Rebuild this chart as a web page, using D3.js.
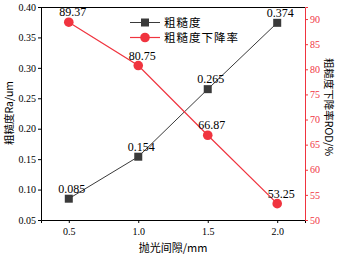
<!DOCTYPE html>
<html><head><meta charset="utf-8">
<script src="https://cdn.jsdelivr.net/npm/d3@7"></script>
<style>body{margin:0;background:#fff}svg{display:block}</style>
</head><body>
<script>
const gaps = [0.5, 1.0, 1.5, 2.0];
const roughness = [0.085, 0.154, 0.265, 0.374];
const reduction = [89.37, 80.75, 66.87, 53.25];
const xTicks = [0.5, 1.0, 1.5, 2.0];
const yLeftTicks = [0.05, 0.10, 0.15, 0.20, 0.25, 0.30, 0.35, 0.40];
const yRightTicks = [50, 55, 60, 65, 70, 75, 80, 85, 90];
const seriesNames = ["粗糙度", "粗糙度下降率"];

const W = 338, H = 255;
const m = {l: 41, r: 305, t: 7, b: 220};
const serif = "'Liberation Serif','Times New Roman',Times,serif";
const cjk = "'Noto Sans CJK SC','Noto Sans',sans-serif";
const red = "#f0343f", dark = "#3a3a3a";

const svg = d3.select("body").append("svg").attr("width", W).attr("height", H);
const x = d3.scaleLinear().domain([0.3, 2.2]).range([m.l, m.r]);
const yL = d3.scaleLinear().domain([0.05, 0.40]).range([m.b, m.t]);
const yR = d3.scaleLinear().domain([50, 92.4]).range([m.b, m.t]);

// top border
svg.append("line").attr("x1", m.l).attr("x2", m.r).attr("y1", m.t + 0.5).attr("y2", m.t + 0.5)
  .attr("stroke", "#000").attr("stroke-width", 1);

const ax = svg.append("g").attr("transform", `translate(0,${m.b})`)
  .call(d3.axisBottom(x).tickValues(xTicks).tickFormat(d3.format(".1f")).tickSizeOuter(0).tickSize(3).tickPadding(5));
const ayl = svg.append("g").attr("transform", `translate(${m.l},0)`)
  .call(d3.axisLeft(yL).tickValues(yLeftTicks).tickFormat(d3.format(".2f")).tickSizeOuter(0).tickSize(3).tickPadding(2));
const ayr = svg.append("g").attr("transform", `translate(${m.r},0)`)
  .call(d3.axisRight(yR).tickValues(yRightTicks).tickFormat(d3.format("d")).tickSizeOuter(0).tickSize(3).tickPadding(2));
[ax, ayl].forEach(g => {
  g.selectAll("path,line").attr("stroke", "#000");
  g.selectAll("text").attr("fill", "#000").style("font-family", serif).style("font-size", "10px");
});
ayr.selectAll("path,line").attr("stroke", red);
ayr.selectAll("text").attr("fill", red).style("font-family", serif).style("font-size", "10px");

// lines
svg.append("path").datum(gaps.map((g, i) => [g, roughness[i]]))
  .attr("fill", "none").attr("stroke", dark).attr("stroke-width", 1)
  .attr("d", d3.line().x(d => x(d[0])).y(d => yL(d[1])));
svg.append("path").datum(gaps.map((g, i) => [g, reduction[i]]))
  .attr("fill", "none").attr("stroke", red).attr("stroke-width", 1.2)
  .attr("d", d3.line().x(d => x(d[0])).y(d => yR(d[1])));

svg.selectAll("rect.pt").data(gaps).enter().append("rect")
  .attr("x", (d) => x(d) - 4).attr("y", (d, i) => yL(roughness[i]) - 4)
  .attr("width", 8).attr("height", 8).attr("fill", dark);
svg.selectAll("circle.pt").data(gaps).enter().append("circle")
  .attr("cx", d => x(d)).attr("cy", (d, i) => yR(reduction[i])).attr("r", 4.8).attr("fill", red);

// data labels
svg.selectAll("text.lr").data(gaps).enter().append("text")
  .attr("x", d => x(d) + 3).attr("y", (d, i) => yL(roughness[i]) - 6)
  .attr("text-anchor", "middle").style("font-family", serif).style("font-size", "12px")
  .text((d, i) => roughness[i].toFixed(3));
svg.selectAll("text.rr").data(gaps).enter().append("text")
  .attr("x", d => x(d) + 4).attr("y", (d, i) => yR(reduction[i]) - 6)
  .attr("text-anchor", "middle").style("font-family", serif).style("font-size", "12px")
  .text((d, i) => reduction[i].toFixed(2));

// legend
const lg = svg.append("g");
[0, 1].forEach(i => {
  const ly = 22.5 + i * 15;
  lg.append("line").attr("x1", 130).attr("x2", 160).attr("y1", ly).attr("y2", ly)
    .attr("stroke", i ? red : dark).attr("stroke-width", i ? 1.2 : 1);
  if (i) lg.append("circle").attr("cx", 145).attr("cy", ly).attr("r", 4.8).attr("fill", red);
  else lg.append("rect").attr("x", 141).attr("y", ly - 4).attr("width", 8).attr("height", 8).attr("fill", dark);
  lg.append("text").attr("x", 164).attr("y", ly + 4.2).style("font-family", cjk).style("font-size", "11.5px")
    .attr("letter-spacing", "1px").text(seriesNames[i]);
});

// axis titles
svg.append("text").attr("x", 173).attr("y", 252).attr("text-anchor", "middle")
  .style("font-family", cjk).style("font-size", "11px").text("抛光间隙/mm");
svg.append("text").attr("transform", `translate(13,113) rotate(-90)`)
  .attr("text-anchor", "middle").style("font-family", cjk).style("font-size", "10.5px").text("粗糙度Ra/um");
svg.append("text").attr("transform", `translate(325,107) rotate(90)`)
  .attr("text-anchor", "middle").style("font-family", cjk).style("font-size", "10.5px").text("粗糙度下降率ROD/%");
</script>
</body></html>
